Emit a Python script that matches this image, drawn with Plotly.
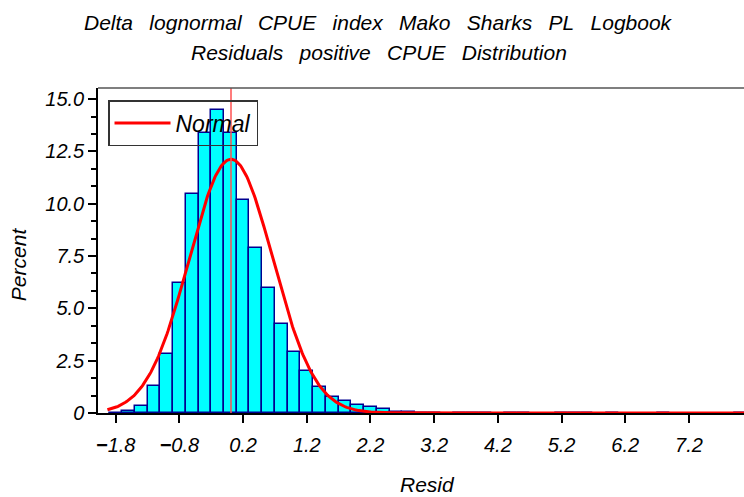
import numpy as np
import plotly.graph_objects as go

# ---- data ----
bin_centers = [-1.8, -1.6, -1.4, -1.2, -1.0, -0.8, -0.6, -0.4, -0.2, 0.0,
               0.2, 0.4, 0.6, 0.8, 1.0, 1.2, 1.4, 1.6, 1.8, 2.0,
               2.2, 2.4, 2.6, 2.8, 3.0, 3.2, 3.6, 3.8, 4.0, 4.4,
               4.6, 5.2, 5.4, 5.6, 6.0, 6.8, 8.0]
percent = [0.02, 0.08, 0.35, 1.30, 2.83, 6.20, 10.47, 13.40, 14.50, 13.40,
           10.20, 7.90, 5.97, 4.24, 2.90, 2.00, 1.24, 0.76, 0.59, 0.37,
           0.30, 0.19, 0.06, 0.04, 0.02, 0.02, 0.02, 0.02, 0.02, 0.02,
           0.02, 0.02, 0.02, 0.02, 0.02, 0.02, 0.02]
bin_width = 0.2

# fitted normal parameters
MU = 0.01
SIGMA = 0.658
curve_start, curve_end = -1.93, 8.07

xtick_vals = [-1.8, -0.8, 0.2, 1.2, 2.2, 3.2, 4.2, 5.2, 6.2, 7.2]
xtick_text = ["<b>\u2212</b>1.8", "<b>\u2212</b>0.8", "0.2", "1.2", "2.2",
              "3.2", "4.2", "5.2", "6.2", "7.2"]
ytick_vals = [0, 2.5, 5, 7.5, 10, 12.5, 15]
ytick_text = ["0", "2.5", "5.0", "7.5", "10.0", "12.5", "15.0"]

title_line1 = "Delta\u2002 lognormal\u2002 CPUE\u2002 index\u2002 Mako\u2002 Sharks\u2002 PL\u2002 Logbook"
title_line2 = "Residuals\u2002 positive\u2002 CPUE\u2002 Distribution"

FONT = "Liberation Sans, Arial, sans-serif"

xs = np.linspace(curve_start, curve_end, 600)
ys = 100 * bin_width / (SIGMA * np.sqrt(2 * np.pi)) * np.exp(-0.5 * ((xs - MU) / SIGMA) ** 2)

fig = go.Figure()
fig.add_trace(go.Bar(
    x=bin_centers, y=percent, width=bin_width,
    marker=dict(color="#00FFFF", line=dict(color="#000090", width=1.5)),
    showlegend=False, hoverinfo="x+y",
))
fig.add_trace(go.Scatter(
    x=xs, y=ys, mode="lines", name="Normal",
    line=dict(color="#FF0000", width=3), showlegend=True,
))

fig.add_shape(type="line", xref="x", yref="y domain", x0=MU, x1=MU, y0=0, y1=1,
              line=dict(color="#FF5050", width=1.5), layer="above")
fig.add_shape(type="line", xref="paper", yref="paper", x0=0, x1=1, y0=1, y1=1,
              line=dict(color="#555555", width=1.5))

fig.update_layout(
    width=744, height=497,
    margin=dict(l=98, r=0, t=88, b=84, autoexpand=False),
    paper_bgcolor="white", plot_bgcolor="white",
    bargap=0,
    font=dict(family=FONT, size=20, color="black", style="italic"),
    legend=dict(x=0.0155, y=0.963, xanchor="left", yanchor="top",
                bordercolor="#333333", borderwidth=1.5, bgcolor="rgba(0,0,0,0)",
                font=dict(family=FONT, size=23, style="italic"),
                itemwidth=56),
    xaxis=dict(range=[-2.078, 8.064], tickmode="array", tickvals=xtick_vals,
               ticktext=xtick_text, ticks="outside", ticklen=8, tickwidth=1.5,
               tickcolor="black", showline=True, linecolor="black", linewidth=1.5,
               showgrid=False, zeroline=False, ticklabelstandoff=5,
               tickfont=dict(family=FONT, size=20, style="italic")),
    yaxis=dict(range=[0, 15.53], tickmode="array", tickvals=ytick_vals,
               ticktext=ytick_text, ticks="outside", ticklen=8, tickwidth=1.5,
               tickcolor="black", showline=True, linecolor="black", linewidth=1.5,
               showgrid=False, zeroline=False,
               minor=dict(dtick=2.5 / 3, tick0=0, ticks="outside", ticklen=5,
                          tickwidth=1.5, tickcolor="black", showgrid=False),
               tickfont=dict(family=FONT, size=20, style="italic")),
    annotations=[
        dict(text=title_line1, xref="paper", yref="paper", x=(378 - 98) / 646, y=1.203,
             xanchor="center", yanchor="middle", showarrow=False,
             font=dict(family=FONT, size=21, style="italic")),
        dict(text=title_line2, xref="paper", yref="paper", x=(379 - 98) / 646, y=1.108,
             xanchor="center", yanchor="middle", showarrow=False,
             font=dict(family=FONT, size=21, style="italic")),
        dict(text="Resid", xref="paper", yref="paper", x=(427 - 98) / 646, y=-0.2215,
             xanchor="center", yanchor="middle", showarrow=False,
             font=dict(family=FONT, size=21, style="italic")),
        dict(text="Percent", xref="paper", yref="paper", x=(18 - 98) / 646, y=0.458,
             xanchor="center", yanchor="middle", showarrow=False, textangle=-90,
             font=dict(family=FONT, size=21, style="italic")),
    ],
)

fig.write_html("out.html", config={"displayModeBar": False},
               post_script="document.body.style.margin='0';")
